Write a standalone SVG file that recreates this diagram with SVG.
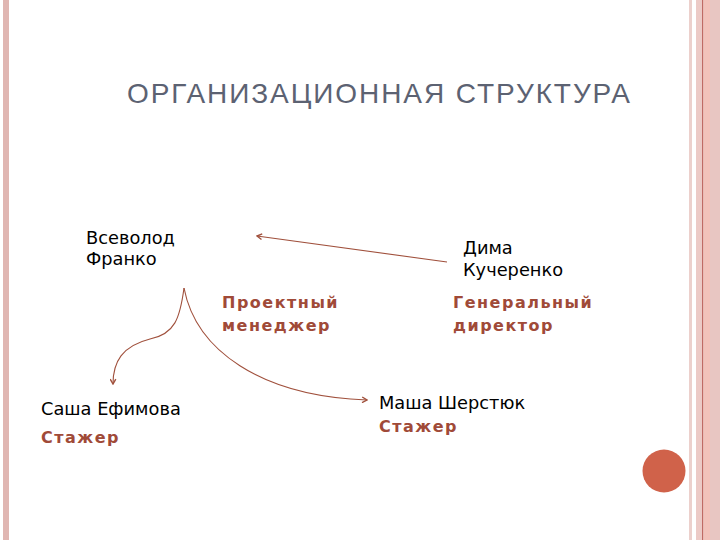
<svg xmlns="http://www.w3.org/2000/svg" width="720" height="540" viewBox="0 0 720 540">
<style>
.name{font-family:"DejaVu Sans","Noto Sans",sans-serif;font-size:17.8px;fill:#000}
.role{font-family:"DejaVu Sans","Noto Sans",sans-serif;font-size:16px;font-weight:bold;fill:#a04a38;letter-spacing:1.5px}
.title{font-family:"Liberation Sans","DejaVu Sans",sans-serif;font-size:28px;fill:#5c6272}
.conn{fill:none;stroke:#a0503c;stroke-width:1.1}
</style>
<defs>
<marker id="arr" viewBox="0 0 10 10" refX="8" refY="5" markerWidth="7" markerHeight="7" orient="auto-start-reverse" markerUnits="userSpaceOnUse">
<path d="M1,1 L8,5 L1,9" fill="none" stroke="#a0503c" stroke-width="2"/>
</marker>
</defs>
<rect width="720" height="540" fill="#fff"/>
<g id="frame">
<rect x="3" y="0" width="6" height="540" fill="#e0b6b2"/>
<rect x="689" y="0" width="3" height="540" fill="#ecd0cc"/>
<rect x="696" y="0" width="6" height="540" fill="#eccac6"/>
<rect x="702" y="0" width="1.5" height="540" fill="#c06a64"/>
<rect x="703.5" y="0" width="6.5" height="540" fill="#f2c2ba"/>
<rect x="710" y="0" width="10" height="540" fill="#e8c6c2"/>
</g>
<text class="title" x="127" y="103" textLength="503" lengthAdjust="spacing">ОРГАНИЗАЦИОННАЯ СТРУКТУРА</text>
<g id="connectors">
<path class="conn" d="M447,262 L257,236" marker-end="url(#arr)"/>
<path class="conn" d="M184,288 C180,318 175,334 150,339 C122,346 113,362 113,384" marker-end="url(#arr)"/>
<path class="conn" d="M184,288 C196,350 260,396 367,400" marker-end="url(#arr)"/>
</g>
<g id="node-vsevolod">
<text class="name" x="86" y="244">Всеволод</text>
<text class="name" x="86" y="265">Франко</text>
<text class="role" x="222" y="308">Проектный</text>
<text class="role" x="222" y="331">менеджер</text>
</g>
<g id="node-dima">
<text class="name" x="463" y="254">Дима</text>
<text class="name" x="463" y="276">Кучеренко</text>
<text class="role" x="453" y="308">Генеральный</text>
<text class="role" x="453" y="331">директор</text>
</g>
<g id="node-sasha">
<text class="name" x="41" y="415">Саша Ефимова</text>
<text class="role" x="41" y="443">Стажер</text>
</g>
<g id="node-masha">
<text class="name" x="379" y="409">Маша Шерстюк</text>
<text class="role" x="379" y="432">Стажер</text>
</g>
<circle cx="664" cy="471" r="21.5" fill="#d0624a"/>
</svg>
